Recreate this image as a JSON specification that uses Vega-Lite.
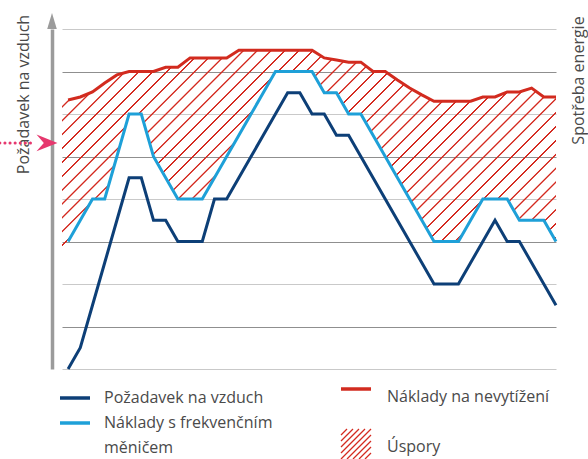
{
  "$schema": "https://vega.github.io/schema/vega-lite/v6.json",
  "autosize": {"type": "none"},
  "width": 494,
  "height": 340,
  "padding": {"left": 62, "top": 29, "right": 32, "bottom": 90},
  "background": "white",
  "config": {"font": "Open Sans", "view": {"stroke": null}},
  "datasets": {
    "main": [
      {"x": -0.5, "d": null, "b": 2.8, "r": 6.3},
      {"x": 0, "d": 0, "b": 3.0, "r": 6.33},
      {"x": 1, "d": 0.5, "b": 3.5, "r": 6.4},
      {"x": 2, "d": 1.5, "b": 4.0, "r": 6.52},
      {"x": 3, "d": 2.5, "b": 4.0, "r": 6.73},
      {"x": 4, "d": 3.5, "b": 5.0, "r": 6.92},
      {"x": 5, "d": 4.5, "b": 6.0, "r": 7.0},
      {"x": 6, "d": 4.5, "b": 6.0, "r": 7.0},
      {"x": 7, "d": 3.5, "b": 5.0, "r": 7.0},
      {"x": 8, "d": 3.5, "b": 4.5, "r": 7.1},
      {"x": 9, "d": 3.0, "b": 4.0, "r": 7.1},
      {"x": 10, "d": 3.0, "b": 4.0, "r": 7.32},
      {"x": 11, "d": 3.0, "b": 4.0, "r": 7.32},
      {"x": 12, "d": 4.0, "b": 4.5, "r": 7.32},
      {"x": 13, "d": 4.0, "b": 5.0, "r": 7.32},
      {"x": 14, "d": 4.5, "b": 5.5, "r": 7.5},
      {"x": 15, "d": 5.0, "b": 6.0, "r": 7.5},
      {"x": 16, "d": 5.5, "b": 6.5, "r": 7.5},
      {"x": 17, "d": 6.0, "b": 7.0, "r": 7.5},
      {"x": 18, "d": 6.5, "b": 7.0, "r": 7.5},
      {"x": 19, "d": 6.5, "b": 7.0, "r": 7.5},
      {"x": 20, "d": 6.0, "b": 7.0, "r": 7.5},
      {"x": 21, "d": 6.0, "b": 6.5, "r": 7.32},
      {"x": 22, "d": 5.5, "b": 6.5, "r": 7.27},
      {"x": 23, "d": 5.5, "b": 6.0, "r": 7.22},
      {"x": 24, "d": 5.0, "b": 6.0, "r": 7.22},
      {"x": 25, "d": 4.5, "b": 5.5, "r": 7.0},
      {"x": 26, "d": 4.0, "b": 5.0, "r": 7.0},
      {"x": 27, "d": 3.5, "b": 4.5, "r": 6.8},
      {"x": 28, "d": 3.0, "b": 4.0, "r": 6.61},
      {"x": 29, "d": 2.5, "b": 3.5, "r": 6.45},
      {"x": 30, "d": 2.0, "b": 3.0, "r": 6.3},
      {"x": 31, "d": 2.0, "b": 3.0, "r": 6.3},
      {"x": 32, "d": 2.0, "b": 3.0, "r": 6.3},
      {"x": 33, "d": 2.5, "b": 3.5, "r": 6.3},
      {"x": 34, "d": 3.0, "b": 4.0, "r": 6.4},
      {"x": 35, "d": 3.5, "b": 4.0, "r": 6.4},
      {"x": 36, "d": 3.0, "b": 4.0, "r": 6.52},
      {"x": 37, "d": 3.0, "b": 3.5, "r": 6.52},
      {"x": 38, "d": 2.5, "b": 3.5, "r": 6.61},
      {"x": 39, "d": 2.0, "b": 3.5, "r": 6.4},
      {"x": 40, "d": 1.5, "b": 3.0, "r": 6.4}
    ],
    "dots": [{"x": -5.6, "x2": -2.88, "y": 5.32}],
    "pinkhead": [{"x": -1.73, "y": 5.32}],
    "grayhead": [{"x": -1.32, "y": 8.188}],
    "keys1": [{"k": "d"}, {"k": "b"}, {"k": "m"}]
  },
  "resolve": {"axis": {"y": "independent"}},
  "layer": [
    {
      "data": {"name": "main"},
      "mark": {
        "type": "area",
        "interpolate": "linear",
        "fill": {
          "gradient": "linear", "x1": 0, "y1": 0, "x2": 1.207, "y2": 0.4887,
          "stops": [
            {"offset":0,"color":"#d42a2000"},{"offset":0.001,"color":"#d42a20"},{"offset":0.0028,"color":"#d42a20"},{"offset":0.0038,"color":"#d42a2000"},
            {"offset":0.02,"color":"#d42a2000"},{"offset":0.021,"color":"#d42a20"},{"offset":0.0228,"color":"#d42a20"},{"offset":0.0238,"color":"#d42a2000"},
            {"offset":0.04,"color":"#d42a2000"},{"offset":0.041,"color":"#d42a20"},{"offset":0.0428,"color":"#d42a20"},{"offset":0.0438,"color":"#d42a2000"},
            {"offset":0.06,"color":"#d42a2000"},{"offset":0.061,"color":"#d42a20"},{"offset":0.0628,"color":"#d42a20"},{"offset":0.0638,"color":"#d42a2000"},
            {"offset":0.08,"color":"#d42a2000"},{"offset":0.081,"color":"#d42a20"},{"offset":0.0828,"color":"#d42a20"},{"offset":0.0838,"color":"#d42a2000"},
            {"offset":0.1,"color":"#d42a2000"},{"offset":0.101,"color":"#d42a20"},{"offset":0.1028,"color":"#d42a20"},{"offset":0.1038,"color":"#d42a2000"},
            {"offset":0.12,"color":"#d42a2000"},{"offset":0.121,"color":"#d42a20"},{"offset":0.1228,"color":"#d42a20"},{"offset":0.1238,"color":"#d42a2000"},
            {"offset":0.14,"color":"#d42a2000"},{"offset":0.141,"color":"#d42a20"},{"offset":0.1428,"color":"#d42a20"},{"offset":0.1438,"color":"#d42a2000"},
            {"offset":0.16,"color":"#d42a2000"},{"offset":0.161,"color":"#d42a20"},{"offset":0.1628,"color":"#d42a20"},{"offset":0.1638,"color":"#d42a2000"},
            {"offset":0.18,"color":"#d42a2000"},{"offset":0.181,"color":"#d42a20"},{"offset":0.1828,"color":"#d42a20"},{"offset":0.1838,"color":"#d42a2000"},
            {"offset":0.2,"color":"#d42a2000"},{"offset":0.201,"color":"#d42a20"},{"offset":0.2028,"color":"#d42a20"},{"offset":0.2038,"color":"#d42a2000"},
            {"offset":0.22,"color":"#d42a2000"},{"offset":0.221,"color":"#d42a20"},{"offset":0.2228,"color":"#d42a20"},{"offset":0.2238,"color":"#d42a2000"},
            {"offset":0.24,"color":"#d42a2000"},{"offset":0.241,"color":"#d42a20"},{"offset":0.2428,"color":"#d42a20"},{"offset":0.2438,"color":"#d42a2000"},
            {"offset":0.26,"color":"#d42a2000"},{"offset":0.261,"color":"#d42a20"},{"offset":0.2628,"color":"#d42a20"},{"offset":0.2638,"color":"#d42a2000"},
            {"offset":0.28,"color":"#d42a2000"},{"offset":0.281,"color":"#d42a20"},{"offset":0.2828,"color":"#d42a20"},{"offset":0.2838,"color":"#d42a2000"},
            {"offset":0.3,"color":"#d42a2000"},{"offset":0.301,"color":"#d42a20"},{"offset":0.3028,"color":"#d42a20"},{"offset":0.3038,"color":"#d42a2000"},
            {"offset":0.32,"color":"#d42a2000"},{"offset":0.321,"color":"#d42a20"},{"offset":0.3228,"color":"#d42a20"},{"offset":0.3238,"color":"#d42a2000"},
            {"offset":0.34,"color":"#d42a2000"},{"offset":0.341,"color":"#d42a20"},{"offset":0.3428,"color":"#d42a20"},{"offset":0.3438,"color":"#d42a2000"},
            {"offset":0.36,"color":"#d42a2000"},{"offset":0.361,"color":"#d42a20"},{"offset":0.3628,"color":"#d42a20"},{"offset":0.3638,"color":"#d42a2000"},
            {"offset":0.38,"color":"#d42a2000"},{"offset":0.381,"color":"#d42a20"},{"offset":0.3828,"color":"#d42a20"},{"offset":0.3838,"color":"#d42a2000"},
            {"offset":0.4,"color":"#d42a2000"},{"offset":0.401,"color":"#d42a20"},{"offset":0.4028,"color":"#d42a20"},{"offset":0.4038,"color":"#d42a2000"},
            {"offset":0.42,"color":"#d42a2000"},{"offset":0.421,"color":"#d42a20"},{"offset":0.4228,"color":"#d42a20"},{"offset":0.4238,"color":"#d42a2000"},
            {"offset":0.44,"color":"#d42a2000"},{"offset":0.441,"color":"#d42a20"},{"offset":0.4428,"color":"#d42a20"},{"offset":0.4438,"color":"#d42a2000"},
            {"offset":0.46,"color":"#d42a2000"},{"offset":0.461,"color":"#d42a20"},{"offset":0.4628,"color":"#d42a20"},{"offset":0.4638,"color":"#d42a2000"},
            {"offset":0.48,"color":"#d42a2000"},{"offset":0.481,"color":"#d42a20"},{"offset":0.4828,"color":"#d42a20"},{"offset":0.4838,"color":"#d42a2000"},
            {"offset":0.5,"color":"#d42a2000"},{"offset":0.501,"color":"#d42a20"},{"offset":0.5028,"color":"#d42a20"},{"offset":0.5038,"color":"#d42a2000"},
            {"offset":0.52,"color":"#d42a2000"},{"offset":0.521,"color":"#d42a20"},{"offset":0.5228,"color":"#d42a20"},{"offset":0.5238,"color":"#d42a2000"},
            {"offset":0.54,"color":"#d42a2000"},{"offset":0.541,"color":"#d42a20"},{"offset":0.5428,"color":"#d42a20"},{"offset":0.5438,"color":"#d42a2000"},
            {"offset":0.56,"color":"#d42a2000"},{"offset":0.561,"color":"#d42a20"},{"offset":0.5628,"color":"#d42a20"},{"offset":0.5638,"color":"#d42a2000"},
            {"offset":0.58,"color":"#d42a2000"},{"offset":0.581,"color":"#d42a20"},{"offset":0.5828,"color":"#d42a20"},{"offset":0.5838,"color":"#d42a2000"},
            {"offset":0.6,"color":"#d42a2000"},{"offset":0.601,"color":"#d42a20"},{"offset":0.6028,"color":"#d42a20"},{"offset":0.6038,"color":"#d42a2000"},
            {"offset":0.62,"color":"#d42a2000"},{"offset":0.621,"color":"#d42a20"},{"offset":0.6228,"color":"#d42a20"},{"offset":0.6238,"color":"#d42a2000"},
            {"offset":0.64,"color":"#d42a2000"},{"offset":0.641,"color":"#d42a20"},{"offset":0.6428,"color":"#d42a20"},{"offset":0.6438,"color":"#d42a2000"},
            {"offset":0.66,"color":"#d42a2000"},{"offset":0.661,"color":"#d42a20"},{"offset":0.6628,"color":"#d42a20"},{"offset":0.6638,"color":"#d42a2000"},
            {"offset":0.68,"color":"#d42a2000"},{"offset":0.681,"color":"#d42a20"},{"offset":0.6828,"color":"#d42a20"},{"offset":0.6838,"color":"#d42a2000"},
            {"offset":0.7,"color":"#d42a2000"},{"offset":0.701,"color":"#d42a20"},{"offset":0.7028,"color":"#d42a20"},{"offset":0.7038,"color":"#d42a2000"},
            {"offset":0.72,"color":"#d42a2000"},{"offset":0.721,"color":"#d42a20"},{"offset":0.7228,"color":"#d42a20"},{"offset":0.7238,"color":"#d42a2000"},
            {"offset":0.74,"color":"#d42a2000"},{"offset":0.741,"color":"#d42a20"},{"offset":0.7428,"color":"#d42a20"},{"offset":0.7438,"color":"#d42a2000"},
            {"offset":0.76,"color":"#d42a2000"},{"offset":0.761,"color":"#d42a20"},{"offset":0.7628,"color":"#d42a20"},{"offset":0.7638,"color":"#d42a2000"},
            {"offset":0.78,"color":"#d42a2000"},{"offset":0.781,"color":"#d42a20"},{"offset":0.7828,"color":"#d42a20"},{"offset":0.7838,"color":"#d42a2000"},
            {"offset":0.8,"color":"#d42a2000"},{"offset":0.801,"color":"#d42a20"},{"offset":0.8028,"color":"#d42a20"},{"offset":0.8038,"color":"#d42a2000"},
            {"offset":0.82,"color":"#d42a2000"},{"offset":0.821,"color":"#d42a20"},{"offset":0.8228,"color":"#d42a20"},{"offset":0.8238,"color":"#d42a2000"},
            {"offset":0.84,"color":"#d42a2000"},{"offset":0.841,"color":"#d42a20"},{"offset":0.8428,"color":"#d42a20"},{"offset":0.8438,"color":"#d42a2000"},
            {"offset":0.86,"color":"#d42a2000"},{"offset":0.861,"color":"#d42a20"},{"offset":0.8628,"color":"#d42a20"},{"offset":0.8638,"color":"#d42a2000"},
            {"offset":0.88,"color":"#d42a2000"},{"offset":0.881,"color":"#d42a20"},{"offset":0.8828,"color":"#d42a20"},{"offset":0.8838,"color":"#d42a2000"},
            {"offset":0.9,"color":"#d42a2000"},{"offset":0.901,"color":"#d42a20"},{"offset":0.9028,"color":"#d42a20"},{"offset":0.9038,"color":"#d42a2000"},
            {"offset":0.92,"color":"#d42a2000"},{"offset":0.921,"color":"#d42a20"},{"offset":0.9228,"color":"#d42a20"},{"offset":0.9238,"color":"#d42a2000"},
            {"offset":0.94,"color":"#d42a2000"},{"offset":0.941,"color":"#d42a20"},{"offset":0.9428,"color":"#d42a20"},{"offset":0.9438,"color":"#d42a2000"},
            {"offset":0.96,"color":"#d42a2000"},{"offset":0.961,"color":"#d42a20"},{"offset":0.9628,"color":"#d42a20"},{"offset":0.9638,"color":"#d42a2000"},
            {"offset":0.98,"color":"#d42a2000"},{"offset":0.981,"color":"#d42a20"},{"offset":0.9828,"color":"#d42a20"},{"offset":0.9838,"color":"#d42a2000"},
            {"offset":1,"color":"#d42a2000"}
          ]
        }
      },
      "encoding": {
        "x": {"field": "x", "type": "quantitative", "scale": {"domain": [-0.5, 40], "nice": false, "zero": false}, "axis": null},
        "y": {
          "field": "r", "type": "quantitative", "scale": {"domain": [0, 8], "nice": false},
          "axis": {
            "orient": "right", "title": "Spotřeba energie", "domain": false, "ticks": false, "labels": false, "grid": false,
            "titleAngle": 270, "titleX": 27, "titleY": 51, "titleBaseline": "alphabetic", "titleAlign": "center",
            "titleFont": "Open Sans", "titleFontSize": 16, "titleFontWeight": "normal", "titleColor": "#4a4a4a"
          }
        },
        "y2": {"field": "b"}
      }
    },
    {
      "data": {"name": "main"},
      "transform": [
        {"filter": "datum.x >= 0"},
        {"fold": ["d", "b", "r"], "as": ["key", "value"]}
      ],
      "mark": {"type": "line", "strokeWidth": 3, "strokeJoin": "miter"},
      "encoding": {
        "x": {"field": "x", "type": "quantitative", "scale": {"domain": [-0.5, 40], "nice": false, "zero": false}, "axis": null},
        "y": {
          "field": "value", "type": "quantitative", "scale": {"domain": [0, 8], "nice": false},
          "axis": {
            "orient": "left", "offset": 10, "values": [0, 1, 2, 3, 4, 5, 6, 7, 8],
            "domain": true, "domainColor": "#9b9b9b", "domainWidth": 3.5,
            "ticks": false, "labels": false, "grid": true, "gridWidth": 1.2,
            "gridColor": {"condition": {"test": "datum.value % 2 === 1", "value": "#8f8f8f"}, "value": "#c9c9c9"},
            "title": "Požadavek na vzduch", "titleAngle": 270, "titleX": -24, "titleY": 65,
            "titleBaseline": "alphabetic", "titleAlign": "center",
            "titleFont": "Open Sans", "titleFontSize": 16, "titleFontWeight": "normal", "titleColor": "#4a4a4a"
          }
        },
        "color": {
          "field": "key", "type": "nominal",
          "scale": {"domain": ["d", "b", "r", "s"], "range": ["#0d3f77", "#1ea0d8", "#d22b1f", "#d42a20"]},
          "legend": {
            "title": null, "orient": "none", "legendX": 286, "legendY": 352, "values": ["r", "s"],
            "direction": "vertical", "rowPadding": 21, "padding": 0,
            "symbolType": "stroke", "symbolSize": 900, "symbolStrokeWidth": 3.5,
            "labelFont": "Open Sans", "labelFontSize": 16, "labelColor": "#4a4a4a", "labelOffset": 23, "labelLimit": 400,
            "labelExpr": "datum.value == 'r' ? 'Náklady na nevytížení' : 'Úspory'",
            "encode": {
              "symbols": {"update": {
                "shape": {"signal": "datum.value == 's' ? 'M-1,-0.6L-0.6,-1M-1,-0.2L-0.2,-1M-1,0.2L0.2,-1M-1,0.6L0.6,-1M-1,1L1,-1M-0.6,1L1,-0.6M-0.2,1L1,-0.2M0.2,1L1,0.2M0.6,1L1,0.6' : 'stroke'"},
                "strokeWidth": {"signal": "datum.value == 's' ? 1.3 : 3.5"},
                "fill": {"value": "transparent"}
              }},
              "labels": {"update": {
                "dy": {"signal": "datum.value == 'r' ? 8 : 3"},
                "lineHeight": {"value": 20}
              }}
            }
          }
        }
      }
    },
    {
      "data": {"name": "keys1"},
      "mark": {"type": "point", "filled": false, "opacity": 0, "strokeWidth": 3.5},
      "encoding": {
        "stroke": {
          "field": "k", "type": "nominal",
          "scale": {"domain": ["d", "b", "m"], "range": ["#0d3f77", "#1ea0d8", "transparent"]},
          "legend": {
            "title": null, "orient": "none", "legendX": -4, "legendY": 352,
            "direction": "vertical", "rowPadding": -2, "padding": 0,
            "symbolType": "stroke", "symbolSize": 900, "symbolStrokeWidth": 3.5, "symbolOpacity": 1,
            "labelFont": "Open Sans", "labelFontSize": 16, "labelColor": "#4a4a4a", "labelOffset": 12, "labelLimit": 400,
            "labelExpr": "datum.value == 'd' ? 'Požadavek na vzduch' : datum.value == 'b' ? 'Náklady s frekvenčním' : 'měničem'"
          }
        }
      }
    },
    {
      "data": {"name": "dots"},
      "mark": {"type": "rule", "color": "#e6386e", "strokeWidth": 3, "strokeCap": "round", "strokeDash": [0.1, 5]},
      "encoding": {
        "x": {"field": "x", "type": "quantitative", "scale": {"domain": [-0.5, 40], "nice": false, "zero": false}, "axis": null},
        "x2": {"field": "x2"},
        "y": {"field": "y", "type": "quantitative", "scale": {"domain": [0, 8], "nice": false}, "axis": null}
      }
    },
    {
      "data": {"name": "pinkhead"},
      "mark": {"type": "point", "shape": "M1,0L-1,-0.8L-0.3,0L-1,0.8Z", "size": 441, "filled": true, "color": "#e6386e", "opacity": 1, "strokeWidth": 0},
      "encoding": {
        "x": {"field": "x", "type": "quantitative", "scale": {"domain": [-0.5, 40], "nice": false, "zero": false}, "axis": null},
        "y": {"field": "y", "type": "quantitative", "scale": {"domain": [0, 8], "nice": false}, "axis": null}
      }
    },
    {
      "data": {"name": "grayhead"},
      "mark": {"type": "point", "shape": "M0,-1L0.6,1L-0.6,1Z", "size": 256, "filled": true, "color": "#9b9b9b", "opacity": 1, "strokeWidth": 0},
      "encoding": {
        "x": {"field": "x", "type": "quantitative", "scale": {"domain": [-0.5, 40], "nice": false, "zero": false}, "axis": null},
        "y": {"field": "y", "type": "quantitative", "scale": {"domain": [0, 8], "nice": false}, "axis": null}
      }
    }
  ]
}
